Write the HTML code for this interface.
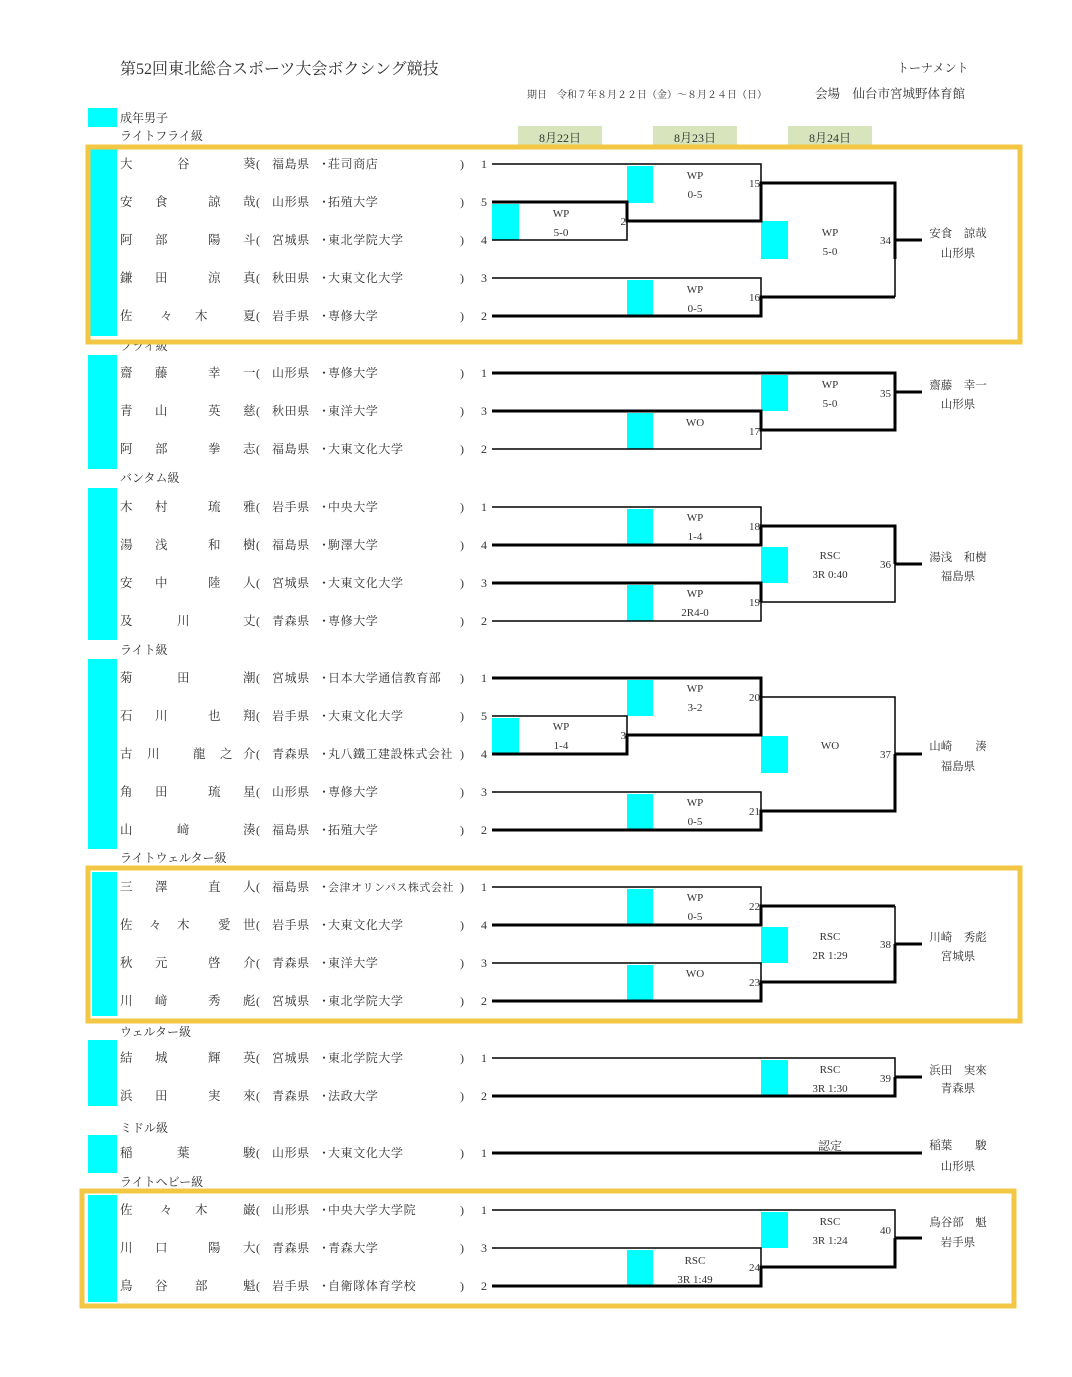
<!DOCTYPE html>
<html><head><meta charset="utf-8">
<style>
html,body{margin:0;padding:0;background:#fff;}
svg{display:block;}
text{font-family:"Liberation Serif","Noto Serif CJK SC",serif;fill:#333;}
.n{font-size:12.5px;}
.s{font-size:12px;letter-spacing:0.6px;}
.r{font-size:11px;text-anchor:middle;}
.k{font-size:11px;text-anchor:end;}
.w{font-size:11.5px;text-anchor:middle;}
.h{font-size:12px;}
</style></head><body>
<svg width="1072" height="1377" viewBox="0 0 1072 1377" xmlns="http://www.w3.org/2000/svg">
<rect width="1072" height="1377" fill="#fff"/>
<!-- header -->
<text x="120" y="74" style="font-size:16px">第52回東北総合スポーツ大会ボクシング競技</text>
<text x="897" y="72" class="h">トーナメント</text>
<text x="527" y="98" style="font-size:10px">期日　令和７年８月２２日（金）～８月２４日（日）</text>
<text x="815" y="98" style="font-size:12.5px">会場　仙台市宮城野体育館</text>
<rect x="88" y="108" width="29" height="19" fill="#00ffff"/>
<text x="120" y="122" class="h">成年男子</text>
<text x="120" y="140" class="h">ライトフライ級</text>
<rect x="518" y="126" width="84" height="20" fill="#d8e4bc"/>
<rect x="653" y="126" width="84" height="20" fill="#d8e4bc"/>
<rect x="788" y="126" width="84" height="20" fill="#d8e4bc"/>
<text x="560" y="142" class="r" style="font-size:12px">8月22日</text>
<text x="695" y="142" class="r" style="font-size:12px">8月23日</text>
<text x="830" y="142" class="r" style="font-size:12px">8月24日</text>

<!-- section labels -->
<text x="120" y="350" class="h">フライ級</text>
<text x="120" y="482" class="h">バンタム級</text>
<text x="120" y="654" class="h">ライト級</text>
<text x="120" y="862" class="h">ライトウェルター級</text>
<text x="120" y="1036" class="h">ウェルター級</text>
<text x="120" y="1132" class="h">ミドル級</text>
<text x="120" y="1186" class="h">ライトヘビー級</text>

<!-- left cyan bars -->
<g fill="#00ffff">
<rect x="90" y="148" width="27" height="188"/>
<rect x="88" y="355" width="29" height="114"/>
<rect x="88" y="488" width="29" height="152"/>
<rect x="88" y="659" width="29" height="190"/>
<rect x="92" y="872" width="25" height="144"/>
<rect x="88" y="1040" width="29" height="66"/>
<rect x="88" y="1135" width="29" height="38"/>
<rect x="88" y="1195" width="29" height="107"/>
</g>
<!-- yellow boxes (over bars) -->
<g fill="none" stroke="#f3c744" stroke-width="5">
<rect x="88" y="147" width="932" height="195"/>
<rect x="88" y="868" width="932" height="153"/>
<rect x="82" y="1191" width="932" height="115"/>
</g>

<!-- bracket cyan boxes -->
<g fill="#00ffff">
<rect x="492" y="204" width="27" height="36"/>
<rect x="627" y="166" width="26" height="37"/>
<rect x="627" y="280" width="26" height="36"/>
<rect x="761" y="221" width="27" height="38"/>
<rect x="761" y="375" width="27" height="36"/>
<rect x="627" y="413" width="26" height="36"/>
<rect x="627" y="509" width="26" height="36"/>
<rect x="627" y="585" width="26" height="36"/>
<rect x="761" y="547" width="27" height="36"/>
<rect x="492" y="718" width="27" height="36"/>
<rect x="627" y="680" width="26" height="36"/>
<rect x="627" y="794" width="26" height="36"/>
<rect x="761" y="736" width="27" height="37"/>
<rect x="627" y="889" width="26" height="36"/>
<rect x="627" y="965" width="26" height="36"/>
<rect x="761" y="927" width="27" height="36"/>
<rect x="761" y="1060" width="27" height="36"/>
<rect x="761" y="1212" width="27" height="36"/>
<rect x="627" y="1250" width="26" height="36"/>
</g>

<!-- thin lines -->
<g stroke="#000" stroke-width="1.5" fill="none">
<path d="M492 164H761V183 M492 240H627V221 M492 278H761V297 M895 259V297"/>
<path d="M492 449H761V430"/>
<path d="M492 507H761V526 M492 621H761V602H895V564"/>
<path d="M492 716H627V735 M761 697V678 M761 697H895V754 M492 792H761V811"/>
<path d="M492 887H761V906 M492 963H761V982 M895 906V944"/>
<path d="M492 1058H895V1077"/>
<path d="M492 1210H895V1238 M492 1248H761V1267"/>
</g>
<!-- thick lines -->
<g stroke="#000" stroke-width="3" fill="none">
<path d="M492 202H627V221H761V183H895V259 M895 240H922 M492 316H761V297H895"/>
<path d="M492 373H895V392 M895 392H922 M492 411H761V430H895V392"/>
<path d="M492 545H761V526H895V564 M895 564H922 M492 583H761V602"/>
<path d="M492 678H761V697 M492 754H627V735H761V697 M492 830H761V811H895V754 M895 754H922"/>
<path d="M492 925H761V906H895 M492 1001H761V982H895V944 M895 944H922"/>
<path d="M492 1096H895V1077 M895 1077H922"/>
<path d="M492 1153H922"/>
<path d="M492 1286H761V1267H895V1238 M895 1238H922"/>
</g>

<!-- result texts -->
<text x="561" y="217" class="r">WP</text><text x="561" y="236" class="r">5-0</text>
<text x="695" y="179" class="r">WP</text><text x="695" y="198" class="r">0-5</text>
<text x="695" y="293" class="r">WP</text><text x="695" y="312" class="r">0-5</text>
<text x="830" y="236" class="r">WP</text><text x="830" y="255" class="r">5-0</text>
<text x="626" y="225" class="k">2</text>
<text x="760" y="187" class="k">15</text>
<text x="760" y="301" class="k">16</text>
<text x="891" y="244" class="k">34</text>
<text x="958" y="237" class="w">安食　諒哉</text><text x="958" y="257" class="w">山形県</text>

<text x="830" y="388" class="r">WP</text><text x="830" y="407" class="r">5-0</text>
<text x="695" y="426" class="r">WO</text>
<text x="760" y="435" class="k">17</text>
<text x="891" y="397" class="k">35</text>
<text x="958" y="389" class="w">齋藤　幸一</text><text x="958" y="408" class="w">山形県</text>

<text x="695" y="521" class="r">WP</text><text x="695" y="540" class="r">1-4</text>
<text x="695" y="597" class="r">WP</text><text x="695" y="616" class="r">2R4-0</text>
<text x="830" y="559" class="r">RSC</text><text x="830" y="578" class="r">3R 0:40</text>
<text x="760" y="530" class="k">18</text>
<text x="760" y="606" class="k">19</text>
<text x="891" y="568" class="k">36</text>
<text x="958" y="561" class="w">湯浅　和樹</text><text x="958" y="580" class="w">福島県</text>

<text x="561" y="730" class="r">WP</text><text x="561" y="749" class="r">1-4</text>
<text x="695" y="692" class="r">WP</text><text x="695" y="711" class="r">3-2</text>
<text x="695" y="806" class="r">WP</text><text x="695" y="825" class="r">0-5</text>
<text x="830" y="749" class="r">WO</text>
<text x="626" y="739" class="k">3</text>
<text x="760" y="701" class="k">20</text>
<text x="760" y="815" class="k">21</text>
<text x="891" y="758" class="k">37</text>
<text x="958" y="750" class="w">山崎　　湊</text><text x="958" y="770" class="w">福島県</text>

<text x="695" y="901" class="r">WP</text><text x="695" y="920" class="r">0-5</text>
<text x="695" y="977" class="r">WO</text>
<text x="830" y="940" class="r">RSC</text><text x="830" y="959" class="r">2R 1:29</text>
<text x="760" y="910" class="k">22</text>
<text x="760" y="986" class="k">23</text>
<text x="891" y="948" class="k">38</text>
<text x="958" y="941" class="w">川崎　秀彪</text><text x="958" y="960" class="w">宮城県</text>

<text x="830" y="1073" class="r">RSC</text><text x="830" y="1092" class="r">3R 1:30</text>
<text x="891" y="1082" class="k">39</text>
<text x="958" y="1074" class="w">浜田　実來</text><text x="958" y="1092" class="w">青森県</text>

<text x="830" y="1150" class="r" style="font-size:12px">認定</text>
<text x="958" y="1149" class="w">稲葉　　駿</text><text x="958" y="1170" class="w">山形県</text>

<text x="830" y="1225" class="r">RSC</text><text x="830" y="1244" class="r">3R 1:24</text>
<text x="695" y="1264" class="r">RSC</text><text x="695" y="1283" class="r">3R 1:49</text>
<text x="760" y="1271" class="k">24</text>
<text x="891" y="1234" class="k">40</text>
<text x="958" y="1226" class="w">鳥谷部　魁</text><text x="958" y="1246" class="w">岩手県</text>

<!-- rows -->
<g class="n">
<!-- LF -->
<text x="120" y="168" class="n">大</text><text x="177" y="168" class="n">谷</text><text x="243" y="168" class="n">葵</text>
<text x="120" y="206" class="n">安</text><text x="155" y="206" class="n">食</text><text x="208" y="206" class="n">諒</text><text x="243" y="206" class="n">哉</text>
<text x="120" y="244" class="n">阿</text><text x="155" y="244" class="n">部</text><text x="208" y="244" class="n">陽</text><text x="243" y="244" class="n">斗</text>
<text x="120" y="282" class="n">鎌</text><text x="155" y="282" class="n">田</text><text x="208" y="282" class="n">涼</text><text x="243" y="282" class="n">真</text>
<text x="120" y="320" class="n">佐</text><text x="160" y="320" class="n">々</text><text x="195" y="320" class="n">木</text><text x="243" y="320" class="n">夏</text>
<!-- Fly -->
<text x="120" y="377" class="n">齋</text><text x="155" y="377" class="n">藤</text><text x="208" y="377" class="n">幸</text><text x="243" y="377" class="n">一</text>
<text x="120" y="415" class="n">青</text><text x="155" y="415" class="n">山</text><text x="208" y="415" class="n">英</text><text x="243" y="415" class="n">慈</text>
<text x="120" y="453" class="n">阿</text><text x="155" y="453" class="n">部</text><text x="208" y="453" class="n">拳</text><text x="243" y="453" class="n">志</text>
<!-- Bantam -->
<text x="120" y="511" class="n">木</text><text x="155" y="511" class="n">村</text><text x="208" y="511" class="n">琉</text><text x="243" y="511" class="n">雅</text>
<text x="120" y="549" class="n">湯</text><text x="155" y="549" class="n">浅</text><text x="208" y="549" class="n">和</text><text x="243" y="549" class="n">樹</text>
<text x="120" y="587" class="n">安</text><text x="155" y="587" class="n">中</text><text x="208" y="587" class="n">陸</text><text x="243" y="587" class="n">人</text>
<text x="120" y="625" class="n">及</text><text x="177" y="625" class="n">川</text><text x="243" y="625" class="n">丈</text>
<!-- Light -->
<text x="120" y="682" class="n">菊</text><text x="177" y="682" class="n">田</text><text x="243" y="682" class="n">潮</text>
<text x="120" y="720" class="n">石</text><text x="155" y="720" class="n">川</text><text x="208" y="720" class="n">也</text><text x="243" y="720" class="n">翔</text>
<text x="120" y="758" class="n">古</text><text x="147" y="758" class="n">川</text><text x="193" y="758" class="n">龍</text><text x="220" y="758" class="n">之</text><text x="243" y="758" class="n">介</text>
<text x="120" y="796" class="n">角</text><text x="155" y="796" class="n">田</text><text x="208" y="796" class="n">琉</text><text x="243" y="796" class="n">星</text>
<text x="120" y="834" class="n">山</text><text x="177" y="834" class="n">﨑</text><text x="243" y="834" class="n">湊</text>
<!-- LW -->
<text x="120" y="891" class="n">三</text><text x="155" y="891" class="n">澤</text><text x="208" y="891" class="n">直</text><text x="243" y="891" class="n">人</text>
<text x="120" y="929" class="n">佐</text><text x="149" y="929" class="n">々</text><text x="177" y="929" class="n">木</text><text x="218" y="929" class="n">愛</text><text x="243" y="929" class="n">世</text>
<text x="120" y="967" class="n">秋</text><text x="155" y="967" class="n">元</text><text x="208" y="967" class="n">啓</text><text x="243" y="967" class="n">介</text>
<text x="120" y="1005" class="n">川</text><text x="155" y="1005" class="n">﨑</text><text x="208" y="1005" class="n">秀</text><text x="243" y="1005" class="n">彪</text>
<!-- W -->
<text x="120" y="1062" class="n">結</text><text x="155" y="1062" class="n">城</text><text x="208" y="1062" class="n">輝</text><text x="243" y="1062" class="n">英</text>
<text x="120" y="1100" class="n">浜</text><text x="155" y="1100" class="n">田</text><text x="208" y="1100" class="n">実</text><text x="243" y="1100" class="n">來</text>
<!-- M -->
<text x="120" y="1157" class="n">稲</text><text x="177" y="1157" class="n">葉</text><text x="243" y="1157" class="n">駿</text>
<!-- LH -->
<text x="120" y="1214" class="n">佐</text><text x="160" y="1214" class="n">々</text><text x="195" y="1214" class="n">木</text><text x="243" y="1214" class="n">巌</text>
<text x="120" y="1252" class="n">川</text><text x="155" y="1252" class="n">口</text><text x="208" y="1252" class="n">陽</text><text x="243" y="1252" class="n">大</text>
<text x="120" y="1290" class="n">鳥</text><text x="155" y="1290" class="n">谷</text><text x="195" y="1290" class="n">部</text><text x="243" y="1290" class="n">魁</text>
</g>

<!-- prefecture / school columns -->
<g class="s">
<text x="256" y="168">(</text><text x="272" y="168">福島県</text><text x="318" y="168">・</text><text x="328" y="168">荘司商店</text><text x="460" y="168">)</text><text x="481" y="168">1</text>
<text x="256" y="206">(</text><text x="272" y="206">山形県</text><text x="318" y="206">・</text><text x="328" y="206">拓殖大学</text><text x="460" y="206">)</text><text x="481" y="206">5</text>
<text x="256" y="244">(</text><text x="272" y="244">宮城県</text><text x="318" y="244">・</text><text x="328" y="244">東北学院大学</text><text x="460" y="244">)</text><text x="481" y="244">4</text>
<text x="256" y="282">(</text><text x="272" y="282">秋田県</text><text x="318" y="282">・</text><text x="328" y="282">大東文化大学</text><text x="460" y="282">)</text><text x="481" y="282">3</text>
<text x="256" y="320">(</text><text x="272" y="320">岩手県</text><text x="318" y="320">・</text><text x="328" y="320">専修大学</text><text x="460" y="320">)</text><text x="481" y="320">2</text>

<text x="256" y="377">(</text><text x="272" y="377">山形県</text><text x="318" y="377">・</text><text x="328" y="377">専修大学</text><text x="460" y="377">)</text><text x="481" y="377">1</text>
<text x="256" y="415">(</text><text x="272" y="415">秋田県</text><text x="318" y="415">・</text><text x="328" y="415">東洋大学</text><text x="460" y="415">)</text><text x="481" y="415">3</text>
<text x="256" y="453">(</text><text x="272" y="453">福島県</text><text x="318" y="453">・</text><text x="328" y="453">大東文化大学</text><text x="460" y="453">)</text><text x="481" y="453">2</text>

<text x="256" y="511">(</text><text x="272" y="511">岩手県</text><text x="318" y="511">・</text><text x="328" y="511">中央大学</text><text x="460" y="511">)</text><text x="481" y="511">1</text>
<text x="256" y="549">(</text><text x="272" y="549">福島県</text><text x="318" y="549">・</text><text x="328" y="549">駒澤大学</text><text x="460" y="549">)</text><text x="481" y="549">4</text>
<text x="256" y="587">(</text><text x="272" y="587">宮城県</text><text x="318" y="587">・</text><text x="328" y="587">大東文化大学</text><text x="460" y="587">)</text><text x="481" y="587">3</text>
<text x="256" y="625">(</text><text x="272" y="625">青森県</text><text x="318" y="625">・</text><text x="328" y="625">専修大学</text><text x="460" y="625">)</text><text x="481" y="625">2</text>

<text x="256" y="682">(</text><text x="272" y="682">宮城県</text><text x="318" y="682">・</text><text x="328" y="682">日本大学通信教育部</text><text x="460" y="682">)</text><text x="481" y="682">1</text>
<text x="256" y="720">(</text><text x="272" y="720">岩手県</text><text x="318" y="720">・</text><text x="328" y="720">大東文化大学</text><text x="460" y="720">)</text><text x="481" y="720">5</text>
<text x="256" y="758">(</text><text x="272" y="758">青森県</text><text x="318" y="758">・</text><text x="328" y="758" textLength="125">丸八鐵工建設株式会社</text><text x="460" y="758">)</text><text x="481" y="758">4</text>
<text x="256" y="796">(</text><text x="272" y="796">山形県</text><text x="318" y="796">・</text><text x="328" y="796">専修大学</text><text x="460" y="796">)</text><text x="481" y="796">3</text>
<text x="256" y="834">(</text><text x="272" y="834">福島県</text><text x="318" y="834">・</text><text x="328" y="834">拓殖大学</text><text x="460" y="834">)</text><text x="481" y="834">2</text>

<text x="256" y="891">(</text><text x="272" y="891">福島県</text><text x="318" y="891">・</text><text x="328" y="891" textLength="126" style="font-size:11px">会津オリンパス株式会社</text><text x="460" y="891">)</text><text x="481" y="891">1</text>
<text x="256" y="929">(</text><text x="272" y="929">岩手県</text><text x="318" y="929">・</text><text x="328" y="929">大東文化大学</text><text x="460" y="929">)</text><text x="481" y="929">4</text>
<text x="256" y="967">(</text><text x="272" y="967">青森県</text><text x="318" y="967">・</text><text x="328" y="967">東洋大学</text><text x="460" y="967">)</text><text x="481" y="967">3</text>
<text x="256" y="1005">(</text><text x="272" y="1005">宮城県</text><text x="318" y="1005">・</text><text x="328" y="1005">東北学院大学</text><text x="460" y="1005">)</text><text x="481" y="1005">2</text>

<text x="256" y="1062">(</text><text x="272" y="1062">宮城県</text><text x="318" y="1062">・</text><text x="328" y="1062">東北学院大学</text><text x="460" y="1062">)</text><text x="481" y="1062">1</text>
<text x="256" y="1100">(</text><text x="272" y="1100">青森県</text><text x="318" y="1100">・</text><text x="328" y="1100">法政大学</text><text x="460" y="1100">)</text><text x="481" y="1100">2</text>

<text x="256" y="1157">(</text><text x="272" y="1157">山形県</text><text x="318" y="1157">・</text><text x="328" y="1157">大東文化大学</text><text x="460" y="1157">)</text><text x="481" y="1157">1</text>

<text x="256" y="1214">(</text><text x="272" y="1214">山形県</text><text x="318" y="1214">・</text><text x="328" y="1214">中央大学大学院</text><text x="460" y="1214">)</text><text x="481" y="1214">1</text>
<text x="256" y="1252">(</text><text x="272" y="1252">青森県</text><text x="318" y="1252">・</text><text x="328" y="1252">青森大学</text><text x="460" y="1252">)</text><text x="481" y="1252">3</text>
<text x="256" y="1290">(</text><text x="272" y="1290">岩手県</text><text x="318" y="1290">・</text><text x="328" y="1290">自衛隊体育学校</text><text x="460" y="1290">)</text><text x="481" y="1290">2</text>
</g>
</svg>
</body></html>
